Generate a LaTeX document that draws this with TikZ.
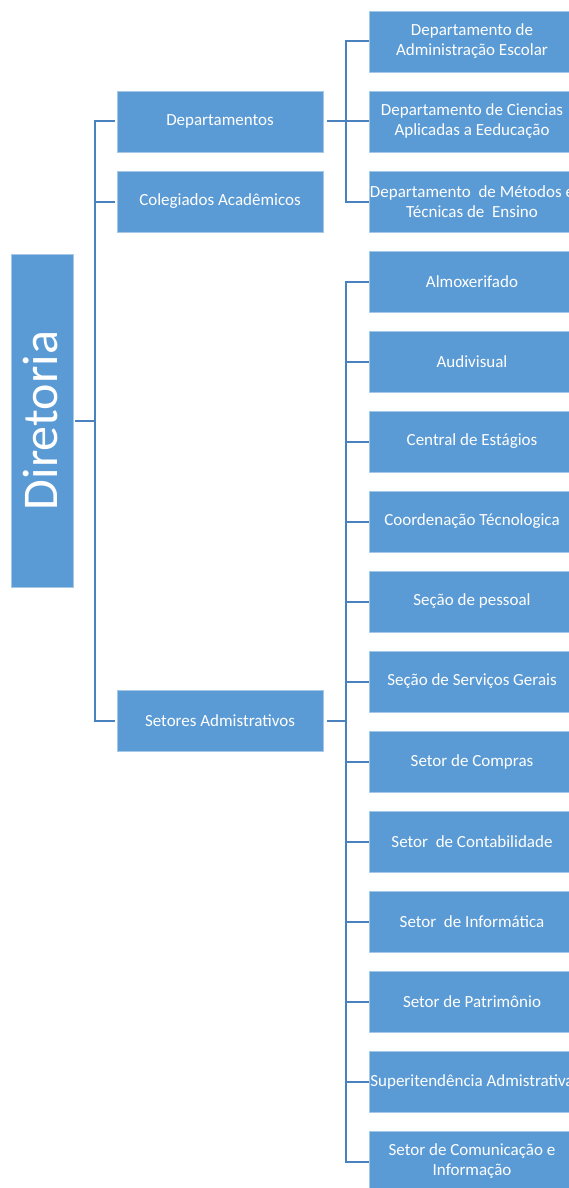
\documentclass[tikz,border=0pt]{standalone}
\usepackage{fontspec}
\setmainfont{Carlito}
\usetikzlibrary{calc}
\definecolor{boxblue}{RGB}{91,155,213}
\definecolor{lineblue}{RGB}{74,130,192}
\begin{document}
\begin{tikzpicture}[x=1pt,y=-1pt,
  box/.style={fill=boxblue, draw=boxblue!55!white, line width=0.6pt, text=white,
    minimum width=206pt, minimum height=61pt, inner sep=0pt, align=center,
    font=\fontsize{17}{20}\selectfont},
  conn/.style={draw=lineblue, line width=2pt}]
\useasboundingbox (0,0) rectangle (569,1188);
\clip (0,0) rectangle (569,1188);
% root
\node[box, minimum width=62pt, minimum height=333pt] (dir) at (42,420.5) {};
\node[text=white, rotate=90, font=\fontsize{50}{56}\selectfont, inner sep=0pt] (dirtext) at (40,420.5) {Diretoria};
% level 1
\node[box] (dep) at (220,121.5) {Departamentos};
\node[box] (col) at (220,201.5) {Colegiados Acadêmicos};
\node[box] (set) at (220,720.7) {Setores Admistrativos};
% level 2
\node[box] (r0) at (472,41.5) {Departamento de\\Administração Escolar};
\node[box] (r1) at (472,121.5) {Departamento de Ciencias\\Aplicadas a Eeducação};
\node[box] (r2) at (472,201.5) {Departamento~ de Métodos e\\Técnicas de~ Ensino};
\node[box] (r3) at (472,281.5) {Almoxerifado};
\node[box] (r4) at (472,361.5) {Audivisual};
\node[box] (r5) at (472,441.5) {Central de Estágios};
\node[box] (r6) at (472,521.5) {Coordenação Técnologica};
\node[box] (r7) at (472,601.5) {Seção de pessoal};
\node[box] (r8) at (472,681.5) {Seção de Serviços Gerais};
\node[box] (r9) at (472,761.5) {Setor de Compras};
\node[box] (r10) at (472,841.5) {Setor~ de Contabilidade};
\node[box] (r11) at (472,921.5) {Setor~ de Informática};
\node[box] (r12) at (472,1001.5) {Setor de Patrimônio};
\node[box] (r13) at (472,1081.5) {Superitendência Admistrativa};
\node[box] (r14) at (472,1161.5) {Setor de Comunicação e\\Informação};
% buses
\coordinate (busL) at (95,0);
\coordinate (busD) at (346,0);
% connectors
\draw[conn, shorten <=2pt] (dir.east) -- (dir.east -| busL);
\draw[conn, shorten <=2pt, shorten >=2pt] (dep.west) -- (busL |- dep.west) -- (busL |- set.west) -- (set.west);
\draw[conn, shorten >=2pt] (busL |- col.west) -- (col.west);
\draw[conn, shorten <=4pt] (dep.east) -- (r1.west);
\draw[conn] (r0.west) -- (busD |- r0.west) -- (busD |- r2.west) -- (r2.west);
\draw[conn, shorten <=4pt] (set.east) -- (set.east -| busD);
\draw[conn] (r3.west) -- (busD |- r3.west) -- (busD |- r14.west) -- (r14.west);
\foreach \i in {4,...,13} {\draw[conn] (busD |- r\i.west) -- (r\i.west);}
\end{tikzpicture}
\end{document}
